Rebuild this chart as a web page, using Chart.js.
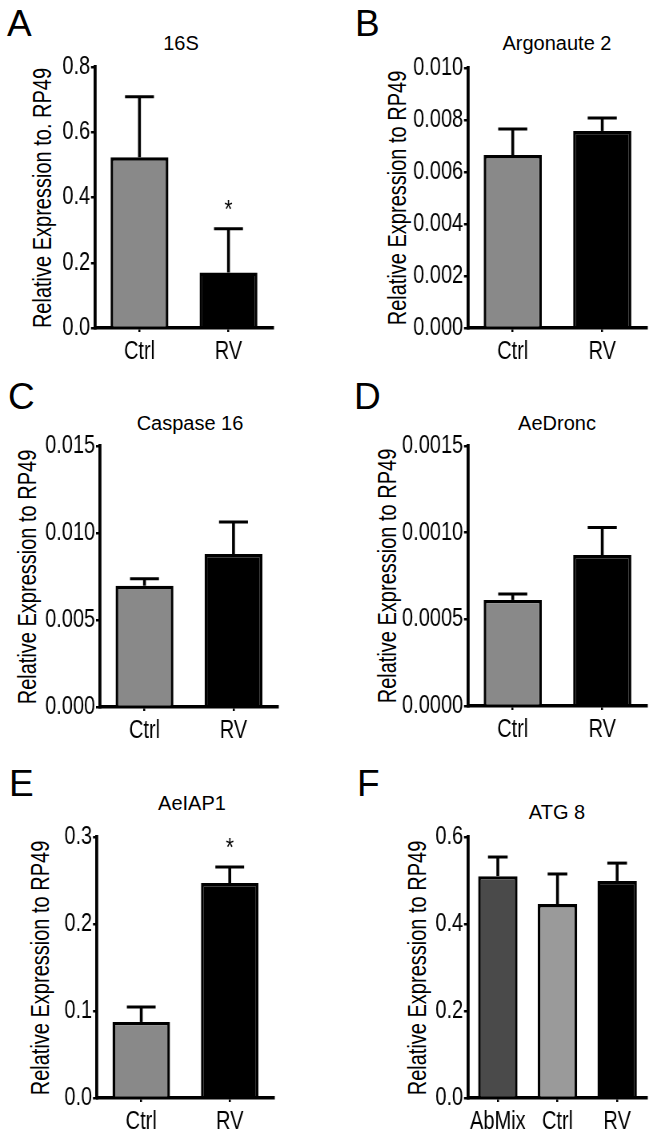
<!DOCTYPE html>
<html>
<head>
<meta charset="utf-8">
<script src="https://cdn.jsdelivr.net/npm/chart.js@4.4.1/dist/chart.umd.min.js"></script>
<style>
  body { margin: 0; background: #fff; }
  #page { position: relative; width: 650px; height: 1129px; overflow: hidden; background: #fff; }
  #page canvas { position: absolute; transform-origin: 0 0; }
  .letter { position: absolute; font: 37px "Liberation Sans", Arial, sans-serif; line-height: 1; color: #000; }
  .gene { position: absolute; width: 200px; height: 20px; font: 20px "Liberation Sans", Arial, sans-serif; line-height: 20px; text-align: center; color: #000; white-space: nowrap; }
  .ytitle { position: absolute; width: 0; height: 0; }
  .ytitle span { position: absolute; left: 0; top: 0; white-space: nowrap; font: 25px "Liberation Sans", Arial, sans-serif; line-height: 25px; color: #000;
                 transform: translate(-50%, -50%) rotate(-90deg) scaleX(0.8); }
</style>
</head>
<body>
<div id="page"></div>
<script>
// values: bar = mean, error bar = SEM (drawn upward only)
const letters = ['A', 'B', 'C', 'D', 'E', 'F'];
const genes = ['16S', 'Argonaute 2', 'Caspase 16', 'AeDronc', 'AeIAP1', 'ATG 8'];
const yTitles = [
  'Relative Expression to. RP49',
  'Relative Expression to RP49',
  'Relative Expression to RP49',
  'Relative Expression to RP49',
  'Relative Expression to RP49',
  'Relative Expression to RP49'
];
const twoGroups = ['Ctrl', 'RV'];
const threeGroups = ['AbMix', 'Ctrl', 'RV'];

const mean16S = [0.523, 0.170];
const sem16S = [0.186, 0.134];
const meanAgo2 = [0.00665, 0.00758];
const semAgo2 = [0.00100, 0.00050];
const meanCasp16 = [0.00697, 0.00879];
const semCasp16 = [0.00040, 0.00184];
const meanDronc = [0.000612, 0.000871];
const semDronc = [0.000034, 0.000159];
const meanIAP1 = [0.0874, 0.247];
const semIAP1 = [0.0172, 0.0185];
const meanATG8 = [0.510, 0.446, 0.499];
const semATG8 = [0.044, 0.069, 0.041];

const stars16S = ['', '*'];
const starsIAP1 = ['', '*'];
const noStars = ['', '', ''];

const yMax = [0.8, 0.010, 0.015, 0.0015, 0.3, 0.6];
const yStep = [0.2, 0.002, 0.005, 0.0005, 0.1, 0.2];
const yDecimals = [1, 3, 3, 4, 1, 1];

const panels = [
  { cats: twoGroups, mean: mean16S, sem: sem16S, stars: stars16S },
  { cats: twoGroups, mean: meanAgo2, sem: semAgo2, stars: noStars },
  { cats: twoGroups, mean: meanCasp16, sem: semCasp16, stars: noStars },
  { cats: twoGroups, mean: meanDronc, sem: semDronc, stars: noStars },
  { cats: twoGroups, mean: meanIAP1, sem: semIAP1, stars: starsIAP1 },
  { cats: threeGroups, mean: meanATG8, sem: semATG8, stars: noStars }
];

// layout, page pixels: canvas box, plot area, y-title centre, gene title centre, letter corner
const boxes = [
  { x: 0,   y: 0,   w: 325, h: 370, l: 95,  r: 273, t: 67,  b: 328,  tx: 42,  gx: 181, gy: 43,  lx: 7,   ly: 5 },
  { x: 325, y: 0,   w: 325, h: 370, l: 468, r: 647, t: 68,  b: 328,  tx: 397, gx: 557, gy: 43,  lx: 355, ly: 5 },
  { x: 0,   y: 370, w: 325, h: 380, l: 100, r: 278, t: 446, b: 707,  tx: 27,  gx: 190, gy: 423, lx: 8,   ly: 378 },
  { x: 325, y: 370, w: 325, h: 380, l: 468, r: 647, t: 446, b: 706,  tx: 387, gx: 557, gy: 423, lx: 354, ly: 378 },
  { x: 0,   y: 750, w: 325, h: 379, l: 97,  r: 274, t: 837, b: 1098, tx: 40,  gx: 192, gy: 803, lx: 9,   ly: 765 },
  { x: 325, y: 750, w: 325, h: 379, l: 468, r: 647, t: 837, b: 1098, tx: 417, gx: 557, gy: 812, lx: 357, ly: 765 }
];

// axis text in the source is a condensed face: draw wide, then scale x by K
const K = 0.8;
const fontFamily = '"Liberation Sans", Arial, sans-serif';
const axisSize = 25;

function barColors(cats) {
  if (cats.length === 3) return ['#4a4a4a', '#9a9a9a', '#000000'];
  return ['#898989', '#000000'];
}

// error bars and significance stars
const extras = {
  id: 'extras',
  afterDatasetsDraw(chart, args, opts) {
    const ctx = chart.ctx;
    const y = chart.scales.y;
    const meta = chart.getDatasetMeta(0);
    ctx.save();
    ctx.strokeStyle = '#000';
    ctx.fillStyle = '#000';
    meta.data.forEach((bar, i) => {
      const top = y.getPixelForValue(opts.mean[i] + opts.sem[i]);
      const half = bar.width / 4;
      ctx.lineWidth = 3.6;
      ctx.beginPath();
      ctx.moveTo(bar.x, bar.y);
      ctx.lineTo(bar.x, top);
      ctx.stroke();
      ctx.lineWidth = 3;
      ctx.beginPath();
      ctx.moveTo(bar.x - half, top);
      ctx.lineTo(bar.x + half, top);
      ctx.stroke();
      if (opts.stars[i]) {
        ctx.font = '26px ' + fontFamily;
        ctx.textAlign = 'center';
        ctx.textBaseline = 'alphabetic';
        ctx.fillText(opts.stars[i], bar.x, top - 11);
      }
    });
    ctx.restore();
  }
};

const page = document.getElementById('page');

panels.forEach((p, i) => {
  const B = boxes[i];
  const hx = v => (v - B.x) / K;

  const letter = document.createElement('div');
  letter.className = 'letter';
  letter.textContent = letters[i];
  letter.style.left = B.lx + 'px';
  letter.style.top = B.ly + 'px';
  page.appendChild(letter);

  const gene = document.createElement('div');
  gene.className = 'gene';
  gene.textContent = genes[i];
  gene.style.left = (B.gx - 100) + 'px';
  gene.style.top = (B.gy - 10) + 'px';
  page.appendChild(gene);

  const yt = document.createElement('div');
  yt.className = 'ytitle';
  yt.style.left = B.tx + 'px';
  yt.style.top = ((B.t + B.b) / 2) + 'px';
  const span = document.createElement('span');
  span.textContent = yTitles[i];
  yt.appendChild(span);
  page.appendChild(yt);

  const W = Math.round(B.w / K);
  const canvas = document.createElement('canvas');
  canvas.width = W;
  canvas.height = B.h;
  canvas.style.left = B.x + 'px';
  canvas.style.top = B.y + 'px';
  canvas.style.transform = 'scaleX(' + K + ')';
  page.appendChild(canvas);

  const axisFont = { family: fontFamily, size: axisSize };
  const dec = yDecimals[i];

  new Chart(canvas.getContext('2d'), {
    type: 'bar',
    data: {
      labels: p.cats,
      datasets: [{
        data: p.mean,
        backgroundColor: barColors(p.cats),
        borderColor: '#000',
        borderWidth: 3.4,
        borderSkipped: 'start',
        barPercentage: p.cats.length === 3 ? 0.66 : 0.65,
        categoryPercentage: 1
      }]
    },
    options: {
      responsive: false,
      animation: false,
      devicePixelRatio: 1,
      layout: { padding: { left: 0, right: W - hx(B.r), top: B.t - B.y, bottom: 0 } },
      scales: {
        x: {
          offset: true,
          grid: { display: true, drawOnChartArea: false, offset: false, tickLength: 4, lineWidth: 2.5, color: '#000' },
          border: { display: true, width: 3.4, color: '#000' },
          ticks: { font: axisFont, color: '#000', padding: 5, maxRotation: 0, autoSkip: false },
          afterFit: s => { s.height = B.y + B.h - B.b; }
        },
        y: {
          min: 0,
          max: yMax[i],
          grid: { display: true, drawOnChartArea: false, tickLength: 5, lineWidth: 2.5, color: '#000' },
          border: { display: true, width: 3.8, color: '#000' },
          ticks: { stepSize: yStep[i], font: axisFont, color: '#000', padding: 1, callback: v => v.toFixed(dec) },
          title: { display: false },
          afterFit: s => { s.width = hx(B.l); }
        }
      },
      plugins: {
        legend: { display: false },
        tooltip: { enabled: false },
        extras: { mean: p.mean, sem: p.sem, stars: p.stars }
      }
    },
    plugins: [extras]
  });
});
</script>
</body>
</html>
